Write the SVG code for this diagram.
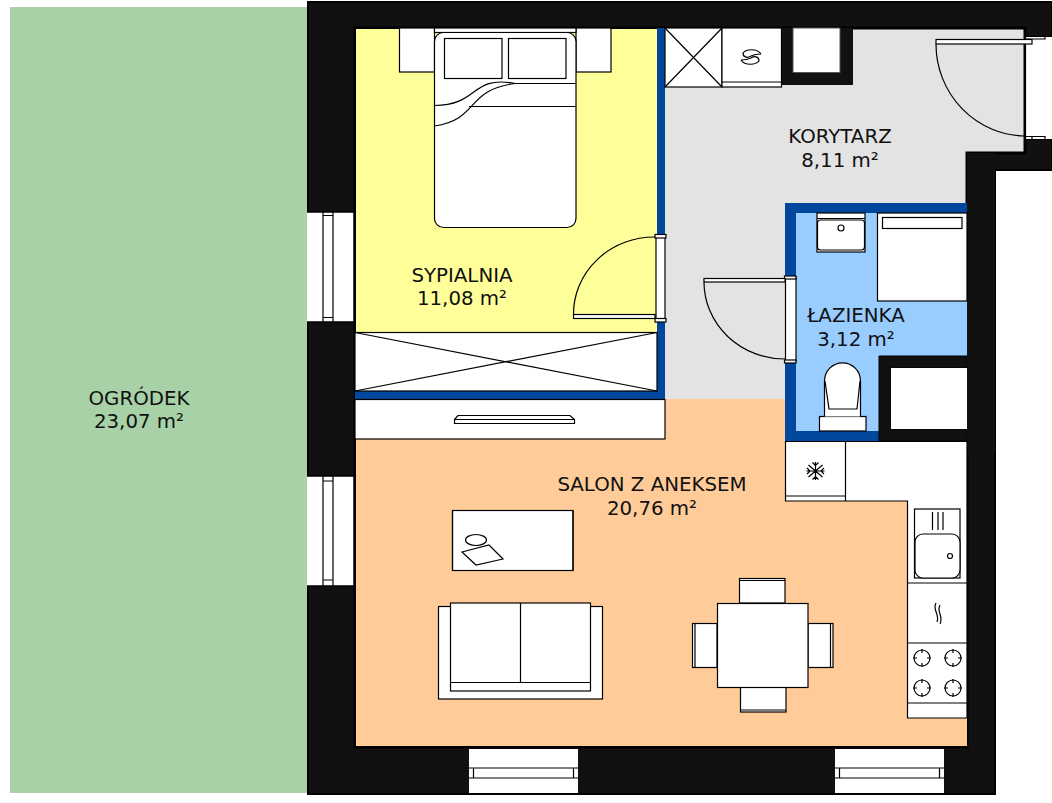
<svg xmlns="http://www.w3.org/2000/svg" width="1052" height="803" viewBox="0 0 1052 803">
<style>
text{font-family:"DejaVu Sans",sans-serif;font-size:19.800px;fill:#111;text-anchor:middle}
.n{fill:none;stroke:#000;stroke-width:1.2}
.m{fill:#fff;stroke:#000;stroke-width:1.2}
.w{fill:#fff;stroke:none}
.db{fill:#00479d}
.k{fill:#111}
</style>
<rect width="1052" height="803" fill="#fff"/>
<g id="garden"><rect x="10" y="7" width="297" height="786" fill="#a8d1a8"/></g>
<g id="walls">
<path class="k" stroke="#000" stroke-width="2" d="M308,2H1052V37H1025V139H1052V170H995V794H308Z"/>
</g>
<g id="rooms">
<path d="M355,28H1025V153H967V747H355Z" fill="#e3e3e3" stroke="#000" stroke-width="3"/>
<rect x="356" y="29" width="301" height="303" fill="#ffff99"/>
<path d="M356,399H785V441H967V746H356Z" fill="#ffcc99"/>
<rect x="785" y="203" width="182" height="238" fill="#99ccff"/>
</g>
<g id="inner-walls">
<path class="db" d="M657,28H665V399H355V391H657Z"/>
<path class="db" fill-rule="evenodd" d="M785,203H967V441H785ZM796,213V431H967V213Z"/>
<path class="k" stroke="#000" fill-rule="evenodd" d="M879,356H967V441H879ZM891,368V429H967V368Z"/>
<rect class="w" x="891" y="368" width="76" height="61" stroke="#666" stroke-width="1"/>
<rect x="967" y="153" width="28" height="300" fill="#111"/>
<path class="k" d="M781.500,28H853V85H781.500Z"/>
<rect x="793" y="28" width="47" height="44.500" fill="#fff" stroke="#555" stroke-width="1"/>
</g>
<g id="windows">
<g class="n">
<rect class="w" x="307" y="212" width="47" height="110"/>
<path d="M323,211V322M333,211V322M323,215.500H333M323,317.500H333"/>
<path d="M307,212H354V322H307" stroke-width="1.500"/>
<rect class="w" x="307" y="476" width="47" height="110"/>
<path d="M323,476V586M333,476V586M323,481H333M323,580H333"/>
<path d="M307,476H354V586H307" stroke-width="1.500"/>
</g>
<g class="n">
<rect class="w" x="469" y="749" width="109" height="44"/>
<path d="M469,768H578M469,778H578M473.500,768V778M573.500,768V778"/>
<rect class="w" x="835" y="749" width="109" height="44"/>
<path d="M835,768H944M835,778H944M839.500,768V778M939.500,768V778"/>
</g>
</g>
<g id="entrance-door">
<rect class="w" x="1026" y="37" width="26" height="102"/>
<path class="n" d="M1025.500,28V153" stroke-width="2.500"/>
<path class="n" d="M1026,39H1045V37M1026,136.500H1045V139M1032,136.500V139" stroke-width="1"/>
<rect class="m" x="936" y="39.500" width="96" height="4.500"/>
<path class="n" d="M936,44A90,92 0 0 0 1025,136"/>
</g>
<g id="bedroom-door">
<rect class="m" x="656" y="236" width="9" height="84"/>
<rect class="m" x="655" y="234.500" width="11" height="3.500"/>
<rect class="m" x="655" y="318.500" width="11" height="3.500"/>
<rect class="m" x="573.500" y="314.500" width="81.500" height="4"/>
<path class="n" d="M573.500,314.500A81,77 0 0 1 655,237"/>
</g>
<g id="bath-door">
<rect class="m" x="785.500" y="277" width="10.500" height="84"/>
<rect class="m" x="784.500" y="276" width="11.500" height="3"/>
<rect class="m" x="784.500" y="360" width="11.500" height="3"/>
<rect class="m" x="704" y="278.500" width="81" height="3.500"/>
<path class="n" d="M704,282A81,77 0 0 0 785,359"/>
</g>
<g id="bed">
<rect class="m" x="399.500" y="28" width="35" height="44"/>
<rect class="m" x="576" y="28" width="35" height="44"/>
<rect class="m" x="434.500" y="28" width="141.500" height="4.500"/>
<rect class="m" x="434.500" y="32.500" width="141.500" height="195" rx="9"/>
<rect class="m" x="444.500" y="38.500" width="57.500" height="40"/>
<rect class="m" x="508.500" y="38.500" width="57.500" height="40"/>
<path class="n" d="M515,83.500H576M469,106.500H576M434.500,105.500C480,105 470,75 515,83.500M434.500,126C480,119 465,90 515,83.500"/>
</g>
<g id="wardrobe">
<rect class="m" x="355" y="332.500" width="302" height="58.500"/>
<path class="n" d="M355,332.500L657,391M355,391L657,332.500"/>
</g>
<g id="radiator-wall">
<rect class="m" x="355" y="399.500" width="310" height="39.500"/>
<path class="m" d="M454.500,419.500L458,415.500H570L574.500,419.500V423.500H454.500ZM454.500,419.500H574.500"/>
</g>
<g id="closet-top">
<rect class="m" x="665" y="28" width="57" height="59"/>
<path class="n" d="M665,28L722,87M665,87L722,28"/>
<rect class="m" x="722" y="28" width="59.500" height="59"/>
<path class="n" d="M722,82H781.500"/>
<path class="n" d="M761,54C757,48 746,49 743,53C743,58 748,58 751,56C755,54 759,54 761,54M741,60C745,66 756,65 759,61C759,56 754,56 751,58C747,60 743,60 741,60"/>
</g>
<g id="bath-fixtures">
<rect class="m" x="817" y="213" width="48" height="39"/>
<path class="n" d="M817,218.500H865"/>
<rect class="m" x="817.500" y="220" width="47" height="30" rx="3"/>
<circle class="n" cx="841" cy="228" r="3"/>
<rect class="m" x="877.500" y="213" width="89.500" height="88"/>
<rect class="m" x="882.500" y="217.500" width="79.500" height="11"/>
<rect class="m" x="819.500" y="416.500" width="46.500" height="14.500"/>
<path class="m" d="M824.500,416.500V381A17.800,18 0 0 1 860.500,381V416.500"/>
<path class="n" d="M825,381L829,409H857L860,381"/>
</g>
<g id="kitchen">
<path class="m" d="M785.500,441.500H967V718H907.500V501H785.500Z"/>
<path class="n" d="M845.500,441.500V501M785.500,496H845.500M907.500,583H967M907.500,643H967M907.500,703H967"/>
<path class="n" stroke-width="1" d="M815.500,462V480M806.500,471H824.500M808.500,465L822.500,477M822.500,465L808.500,477M812.500,462.500L815.500,465.500L818.500,462.500M812.500,479.500L815.500,476.500L818.500,479.500M807,468L810,471L807,474M824,468L821,471L824,474"/>
<rect class="m" x="914.500" y="509" width="45.500" height="69"/>
<rect class="m" x="915" y="534" width="45" height="44" rx="8"/>
<path class="n" d="M932.500,512V530M938,512V530M943,512V530"/>
<circle class="n" cx="950" cy="556" r="2.500"/>
<path class="n" stroke-width="1" d="M936,603C932,610 940,614 937,622M940,605C936,612 944,616 940,624"/>
<g class="n">
<circle cx="922" cy="658" r="8"/><circle cx="953" cy="658" r="8"/><circle cx="922" cy="688" r="8"/><circle cx="953" cy="688" r="8"/>
<path d="M922,649V653M922,663V667M913,658H917M927,658H931M953,649V653M953,663V667M944,658H948M958,658H962M922,679V683M922,693V697M913,688H917M927,688H931M953,679V683M953,693V697M944,688H948M958,688H962"/>
</g>
</g>
<g id="dining">
<rect class="m" x="739.500" y="578.500" width="45.500" height="24.500"/><path class="n" d="M739.500,580.500H785"/>
<rect class="m" x="740.500" y="687" width="45.500" height="25"/><path class="n" d="M740.500,710H786"/>
<rect class="m" x="692.500" y="623.500" width="24.500" height="44"/><path class="n" d="M695,623.500V667.500"/>
<rect class="m" x="808" y="623.500" width="25" height="44"/><path class="n" d="M830.500,623.500V667.500"/>
<rect class="m" x="717.500" y="603.500" width="90.500" height="84"/>
</g>
<g id="desk">
<rect class="m" x="452.500" y="510.500" width="120.500" height="60"/>
<path class="n" stroke="#555" d="M452.500,510.500V570.500M573,510.500V570.500" stroke-width="2"/>
<ellipse class="n" cx="476" cy="540" rx="10.500" ry="5.500"/>
<path class="n" d="M462,552L489,545L503,559L476,565Z"/>
</g>
<g id="sofa">
<rect class="m" x="438.500" y="606.500" width="164" height="92.500"/>
<rect class="m" x="450.500" y="603" width="140" height="88"/>
<path class="n" d="M520.500,603V682M450.500,682.500H590.500"/>
</g>
<g id="labels">
<text x="139" y="405">OGRÓDEK</text><text x="139" y="428">23,07 m²</text>
<text x="462" y="282">SYPIALNIA</text><text x="462" y="305">11,08 m²</text>
<text x="840" y="143">KORYTARZ</text><text x="840" y="167">8,11 m²</text>
<text x="856" y="322">ŁAZIENKA</text><text x="856" y="346">3,12 m²</text>
<text x="652" y="491">SALON Z ANEKSEM</text><text x="652" y="515">20,76 m²</text>
</g>
</svg>
